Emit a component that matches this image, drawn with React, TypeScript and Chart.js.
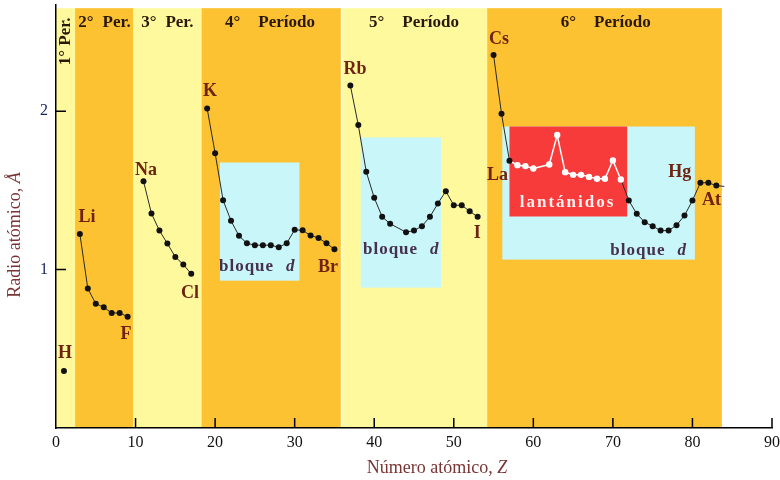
import { useEffect, useRef } from "react";
import { Chart, registerables } from "chart.js";

Chart.register(...registerables);

// ---------- data (atomic number Z, atomic radius in Å) ----------
const P1_Z = [1];
const P1_R = [0.36];

const P2_Z = [3, 4, 5, 6, 7, 8, 9];
const P2_R = [1.225, 0.88, 0.785, 0.762, 0.726, 0.726, 0.703];

const P3_Z = [11, 12, 13, 14, 15, 16, 17];
const P3_R = [1.558, 1.354, 1.246, 1.164, 1.08, 1.032, 0.973];

const P4_Z = [19, 20, 21, 22, 23, 24, 25, 26, 27, 28, 29, 30, 31, 32, 33, 34, 35];
const P4_R = [2.017, 1.735, 1.438, 1.308, 1.213, 1.166, 1.154, 1.154, 1.154, 1.141, 1.166, 1.251, 1.248, 1.215, 1.2, 1.166, 1.128];

const P5_Z = [37, 38, 39, 40, 41, 42, 43, 44, 45, 46, 47, 48, 49, 50, 51, 52, 53];
const P5_R = [2.162, 1.912, 1.617, 1.453, 1.333, 1.289, null, 1.236, 1.246, 1.274, 1.333, 1.417, 1.495, 1.406, 1.406, 1.368, 1.333];

const P6_Z = [55, 56, 57, 58, 59, 60, 61, 62, 63, 64, 65, 66, 67, 68, 69, 70, 71, 72, 73, 74, 75, 76, 77, 78, 79, 80, 81, 82, 83, 84];
const P6_R = [2.354, 1.984, 1.687, 1.659, 1.653, 1.638, null, 1.663, 1.849, 1.615, 1.598, 1.598, 1.585, 1.573, 1.573, 1.689, 1.569, 1.436, 1.352, 1.299, 1.274, 1.246, 1.246, 1.28, 1.341, 1.436, 1.548, 1.548, 1.53, 1.525];
const LANTHANIDE_FIRST = 58;
const LANTHANIDE_LAST = 71;

const X_TICKS = [0, 10, 20, 30, 40, 50, 60, 70, 80, 90];
const Y_TICKS = [1, 2];

// period bands
const BAND_FROM = [0, 2.4, 9.7, 18.3, 36.0, 54.2];
const BAND_TO = [2.4, 9.7, 18.3, 35.8, 54.2, 83.7];
const BAND_KIND = ["light", "dark", "light", "dark", "light", "dark"];
const BAND_TOP = 2.65;

// d-block boxes
const DBOX_Z0 = [20.6, 38.3, 56.1];
const DBOX_Z1 = [30.6, 48.4, 80.3];
const DBOX_R0 = [0.93, 0.886, 1.063];
const DBOX_R1 = [1.676, 1.834, 1.903];
const LAN_BOX = [57.0, 71.8, 1.335, 1.903];

// element labels
const EL_TEXT = ["H", "Li", "F", "Na", "Cl", "K", "Br", "Rb", "I", "Cs", "La", "Hg", "At"];
const EL_Z = [1.13, 3.9, 8.8, 11.3, 16.85, 19.37, 34.2, 37.6, 52.96, 55.7, 55.5, 78.4, 82.4];
const EL_R = [0.47, 1.33, 0.59, 1.625, 0.847, 2.125, 1.013, 2.263, 1.227, 2.453, 1.594, 1.613, 1.436];

const PER_NUM = ["2°", "3°", "4°", "5°", "6°"];
const PER_WORD = ["Per.", "Per.", "Período", "Período", "Período"];
const PER_Z = [6.1, 14.0, 26.9, 45.0, 69.1];
const PER_R = 2.56;

const BLOQUE_Z = [25.3, 43.4, 74.5];
const BLOQUE_R = [1.018, 1.126, 1.12];

const COL_LIGHT = "#FFF99E";
const COL_DARK = "#FCC232";
const COL_BLUE = "#C9F6F9";
const COL_RED = "#F73B3B";
const COL_EL = "#6E2410";
const FONT = "'Liberation Serif', 'Times New Roman', serif";

function drawBackground(chart: any) {
  const { ctx, scales } = chart;
  const x = scales.x, y = scales.y;
  const y0 = y.getPixelForValue(0);
  const yt = y.getPixelForValue(BAND_TOP);
  ctx.save();
  for (let i = 0; i < BAND_FROM.length; i++) {
    const a = x.getPixelForValue(BAND_FROM[i]);
    const b = x.getPixelForValue(BAND_TO[i]);
    ctx.fillStyle = BAND_KIND[i] === "light" ? COL_LIGHT : COL_DARK;
    ctx.fillRect(a, yt, b - a, y0 - yt);
  }
  ctx.fillStyle = COL_BLUE;
  for (let i = 0; i < DBOX_Z0.length; i++) {
    const a = x.getPixelForValue(DBOX_Z0[i]);
    const b = x.getPixelForValue(DBOX_Z1[i]);
    const t = y.getPixelForValue(DBOX_R1[i]);
    const btm = y.getPixelForValue(DBOX_R0[i]);
    ctx.fillRect(a, t, b - a, btm - t);
  }
  ctx.fillStyle = COL_RED;
  {
    const a = x.getPixelForValue(LAN_BOX[0]);
    const b = x.getPixelForValue(LAN_BOX[1]);
    const t = y.getPixelForValue(LAN_BOX[3]);
    const btm = y.getPixelForValue(LAN_BOX[2]);
    ctx.fillRect(a, t, b - a, btm - t);
  }
  ctx.restore();
}

function drawMixed(ctx: any, parts: [string, string][], cx: number, cy: number) {
  let tot = 0;
  for (const [t, f] of parts) {
    ctx.font = f;
    tot += ctx.measureText(t).width;
  }
  let px = cx - tot / 2;
  ctx.textAlign = "left";
  for (const [t, f] of parts) {
    ctx.font = f;
    ctx.fillText(t, px, cy);
    px += ctx.measureText(t).width;
  }
}

function drawOverlay(chart: any) {
  const { ctx, scales } = chart;
  const x = scales.x, y = scales.y;
  const y0 = y.getPixelForValue(0);
  const x0 = x.getPixelForValue(0);
  ctx.save();
  // inward ticks
  ctx.strokeStyle = "#000";
  ctx.lineWidth = 1.5;
  ctx.beginPath();
  for (const v of X_TICKS) {
    if (v === 0) continue;
    const px = x.getPixelForValue(v);
    ctx.moveTo(px, y0);
    ctx.lineTo(px, y0 - 10);
  }
  for (const v of Y_TICKS) {
    const py = y.getPixelForValue(v);
    ctx.moveTo(x0, py);
    ctx.lineTo(x0 + 10, py);
  }
  ctx.stroke();

  ctx.textAlign = "center";
  ctx.textBaseline = "middle";

  // element labels
  ctx.fillStyle = COL_EL;
  ctx.font = `bold 18px ${FONT}`;
  for (let i = 0; i < EL_TEXT.length; i++) {
    ctx.fillText(EL_TEXT[i], x.getPixelForValue(EL_Z[i]), y.getPixelForValue(EL_R[i]));
  }

  // period labels
  ctx.fillStyle = "#2a1808";
  ctx.font = `bold 17px ${FONT}`;
  for (let i = 0; i < PER_NUM.length; i++) {
    const gap = PER_WORD[i].length > 4 ? 18 : 9;
    const w1 = ctx.measureText(PER_NUM[i]).width;
    const w2 = ctx.measureText(PER_WORD[i]).width;
    const tot = w1 + gap + w2;
    const cx = x.getPixelForValue(PER_Z[i]);
    const cy = y.getPixelForValue(PER_R);
    ctx.textAlign = "left";
    ctx.fillText(PER_NUM[i], cx - tot / 2, cy);
    ctx.fillText(PER_WORD[i], cx - tot / 2 + w1 + gap, cy);
  }
  // rotated 1° Per.
  ctx.save();
  ctx.translate(x.getPixelForValue(1.26), y.getPixelForValue(2.44));
  ctx.rotate(-Math.PI / 2);
  ctx.textAlign = "center";
  ctx.fillText("1° Per.", 0, 0);
  ctx.restore();

  // bloque d labels
  ctx.fillStyle = "#46304E";
  for (let i = 0; i < BLOQUE_Z.length; i++) {
    ctx.font = `bold 17px ${FONT}`;
    (ctx as any).letterSpacing = "1px";
    const w1 = ctx.measureText("bloque").width;
    ctx.font = `italic bold 17px ${FONT}`;
    const w2 = ctx.measureText("d").width;
    const gap = 12;
    const tot = w1 + gap + w2;
    const cx = x.getPixelForValue(BLOQUE_Z[i]);
    const cy = y.getPixelForValue(BLOQUE_R[i]);
    ctx.textAlign = "left";
    ctx.font = `bold 17px ${FONT}`;
    ctx.fillText("bloque", cx - tot / 2, cy);
    ctx.font = `italic bold 17px ${FONT}`;
    ctx.fillText("d", cx - tot / 2 + w1 + gap, cy);
  }
  // lantánidos
  ctx.fillStyle = "#FFF0F0";
  ctx.font = `bold 17px ${FONT}`;
  (ctx as any).letterSpacing = "2px";
  ctx.textAlign = "center";
  ctx.fillText("lantánidos", x.getPixelForValue(64.3), y.getPixelForValue(1.42));
  (ctx as any).letterSpacing = "0px";

  // axis titles
  ctx.fillStyle = "#7A3434";
  drawMixed(ctx, [["Número atómico, ", `18px ${FONT}`], ["Z", `italic 18px ${FONT}`]], 437, 468);
  ctx.save();
  ctx.translate(15, 235);
  ctx.rotate(-Math.PI / 2);
  drawMixed(ctx, [["Radio atómico, ", `18px ${FONT}`], ["Å", `italic 18px ${FONT}`]], 0, 0);
  ctx.restore();
  ctx.restore();
}

const overlayPlugin = {
  id: "overlay",
  beforeDraw: (chart: any) => drawBackground(chart),
  afterDatasetsDraw: (chart: any) => drawOverlay(chart),
};

function series(zs: number[], rs: (number | null)[]) {
  return zs.map((z, i) => ({ x: z, y: rs[i] }));
}

function periodDataset(zs: number[], rs: (number | null)[]) {
  return {
    data: series(zs, rs),
    showLine: true,
    spanGaps: true,
    borderColor: "#2a2a2a",
    borderWidth: 1,
    pointRadius: 3,
    pointBackgroundColor: "#111",
    pointBorderColor: "#111",
    pointBorderWidth: 0,
  };
}

export default function App() {
  const ref = useRef<HTMLCanvasElement | null>(null);
  useEffect(() => {
    document.body.style.margin = "0";
    const canvas = ref.current;
    if (!canvas) return;
    const isLan = (z: number) => z >= LANTHANIDE_FIRST && z <= LANTHANIDE_LAST;
    const p6 = periodDataset(P6_Z, P6_R) as any;
    p6.pointBackgroundColor = P6_Z.map((z) => (isLan(z) ? "#ffffff" : "#111"));
    p6.pointBorderColor = P6_Z.map((z) => (isLan(z) ? "#ffffff" : "#111"));
    p6.pointRadius = P6_Z.map((z, i) => (i === P6_Z.length - 1 ? 0 : isLan(z) ? 3.2 : 3));
    p6.segment = {
      borderColor: (c: any) => (isLan(P6_Z[c.p1DataIndex]) ? "#ffffff" : "#2a2a2a"),
      borderWidth: (c: any) => (isLan(P6_Z[c.p1DataIndex]) ? 1.5 : 1),
    };
    const chart = new Chart(canvas, {
      type: "scatter",
      data: {
        datasets: [
          periodDataset(P1_Z, P1_R),
          periodDataset(P2_Z, P2_R),
          periodDataset(P3_Z, P3_R),
          periodDataset(P4_Z, P4_R),
          periodDataset(P5_Z, P5_R),
          p6,
        ] as any,
      },
      options: {
        animation: false,
        responsive: false,
        layout: { padding: { top: 5, right: 8, left: 0, bottom: 0 } },
        plugins: { legend: { display: false }, tooltip: { enabled: false } },
        scales: {
          x: {
            type: "linear",
            min: 0,
            max: 90,
            afterBuildTicks: (s: any) => {
              s.ticks = X_TICKS.map((v) => ({ value: v }));
            },
            afterFit: (s: any) => {
              s.height = 52;
              s.paddingLeft = 0;
              s.paddingRight = 0;
            },
            ticks: { color: "#111", font: { family: FONT, size: 16 }, padding: 5 },
            grid: { display: false, drawTicks: false },
            border: { display: true, color: "#000", width: 1.5 },
          },
          y: {
            type: "linear",
            min: 0,
            max: 2.67,
            afterBuildTicks: (s: any) => {
              s.ticks = Y_TICKS.map((v) => ({ value: v }));
            },
            afterFit: (s: any) => {
              s.width = 56;
              s.paddingTop = 0;
              s.paddingBottom = 0;
            },
            ticks: { color: "#1C2560", font: { family: FONT, size: 16 }, padding: 8 },
            grid: { display: false, drawTicks: false },
            border: { display: true, color: "#000", width: 1.5 },
          },
        },
      },
      plugins: [overlayPlugin],
    });
    return () => chart.destroy();
  }, []);
  return (
    <div style={{ width: 780, height: 480 }}>
      <canvas ref={ref} width={780} height={480} style={{ display: "block" }} />
    </div>
  );
}
